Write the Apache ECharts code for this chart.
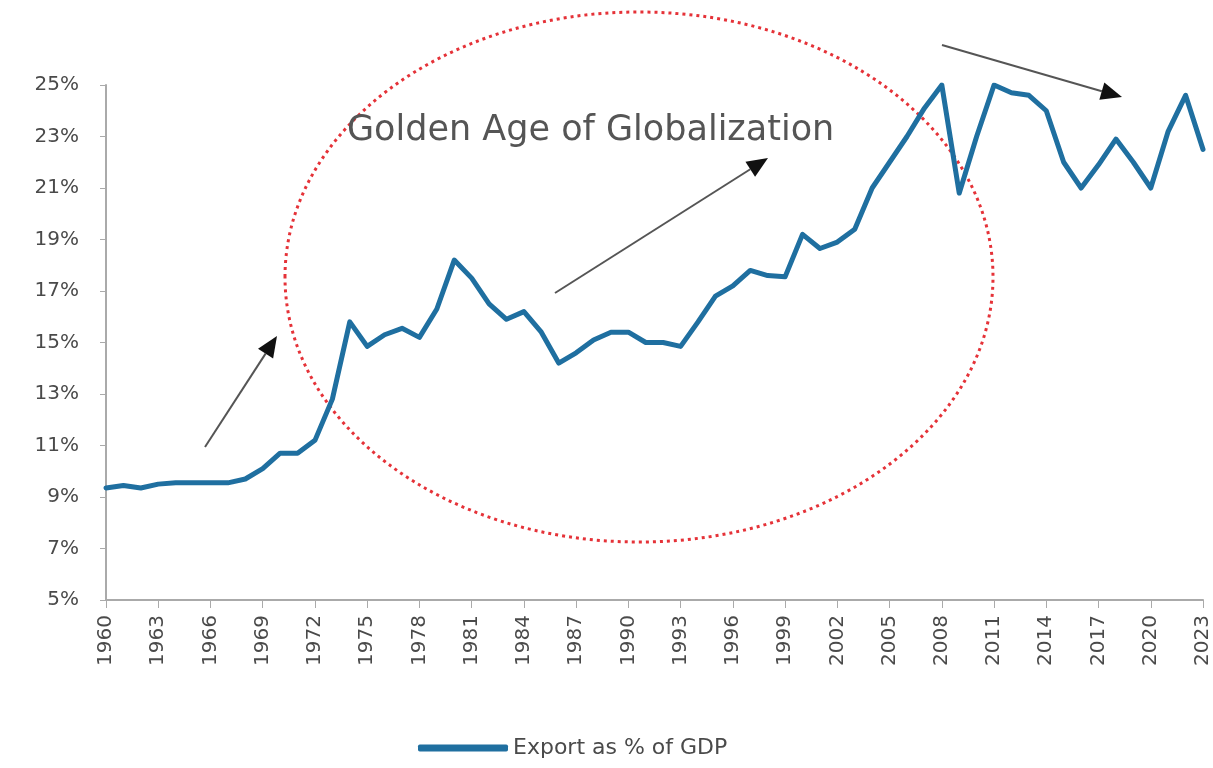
<!DOCTYPE html>
<html>
<head>
<meta charset="utf-8">
<script src="https://cdn.jsdelivr.net/npm/echarts@6/dist/echarts.min.js"></script>
<style>
  html, body { margin: 0; padding: 0; background: #fff; }
  #chart { width: 1213px; height: 768px; }
</style>
</head>
<body>
<div id="chart"></div>
<script>
// Years 1960–2023
const years = [];
for (let y = 1960; y <= 2023; y++) years.push(String(y));

// Exports as a share of GDP (%)
const exportShare = [
  9.35, 9.45, 9.35, 9.5, 9.55, 9.55, 9.55, 9.55, 9.7, 10.1,
  10.7, 10.7, 11.2, 12.8, 15.8, 14.85, 15.3, 15.55, 15.2, 16.3,
  18.2, 17.5, 16.5, 15.9, 16.2, 15.4, 14.2, 14.6, 15.1, 15.4,
  15.4, 15.0, 15.0, 14.85, 15.8, 16.8, 17.2, 17.8, 17.6, 17.55,
  19.2, 18.65, 18.9, 19.4, 21.0, 22.0, 23.0, 24.1, 25.0, 20.8,
  23.0, 25.0, 24.7, 24.6, 24.0, 22.0, 21.0, 21.9, 22.9, 22.0,
  21.0, 23.2, 24.6, 22.5
];

const seriesName = 'Export as % of GDP';
const calloutText = 'Golden Age of Globalization';

const lineColor = '#1f6fa0';
const textColor = '#4a4a4a';
const font = 'DejaVu Sans';

// Straight arrow with a filled triangular head
function arrow(x1, y1, x2, y2) {
  const ang = Math.atan2(y2 - y1, x2 - x1);
  const len = 21, half = 9;
  const bx = x2 - len * Math.cos(ang), by = y2 - len * Math.sin(ang);
  const px = -Math.sin(ang) * half, py = Math.cos(ang) * half;
  return [
    { type: 'line', shape: { x1, y1, x2: bx, y2: by },
      style: { stroke: '#555', lineWidth: 2 } },
    { type: 'polygon', shape: { points: [[x2, y2], [bx + px, by + py], [bx - px, by - py]] },
      style: { fill: '#111' } }
  ];
}

const chart = echarts.init(document.getElementById('chart'));
chart.setOption({
  animation: false,
  backgroundColor: '#fff',
  grid: { left: 106, right: 10, top: 85, bottom: 168, containLabel: false },
  xAxis: {
    type: 'category',
    data: years,
    boundaryGap: false,
    axisLine: { lineStyle: { color: '#aaa', width: 2 } },
    axisTick: { interval: 2, length: 8, lineStyle: { color: '#aaa' } },
    axisLabel: {
      interval: 2, rotate: 90, margin: 15,
      color: textColor, fontFamily: font, fontSize: 20
    },
    splitLine: { show: false }
  },
  yAxis: {
    type: 'value',
    min: 5, max: 25, interval: 2,
    axisLine: { show: true, lineStyle: { color: '#aaa', width: 2 } },
    axisTick: { show: true, length: 6, lineStyle: { color: '#aaa' } },
    axisLabel: {
      formatter: v => v + '%', margin: 27,
      color: textColor, fontFamily: font, fontSize: 20
    },
    splitLine: { show: false }
  },
  legend: {
    left: 413, top: 732,
    icon: 'roundRect', itemWidth: 90, itemHeight: 7, itemGap: 10,
    textStyle: { color: textColor, fontFamily: font, fontSize: 22 },
    data: [seriesName]
  },
  series: [{
    name: seriesName,
    type: 'line',
    data: exportShare,
    symbol: 'none',
    lineStyle: { color: lineColor, width: 5, join: 'round', cap: 'round' },
    itemStyle: { color: lineColor },
    z: 3
  }],
  graphic: [
    { type: 'ellipse', shape: { cx: 639, cy: 277, rx: 354, ry: 265 },
      style: { fill: 'none', stroke: '#e53238', lineWidth: 3, lineDash: [3, 4] }, z: 1 },
    { type: 'text', left: 347, top: 113, z: 1,
      style: { text: calloutText, fill: '#555', font: '35px "DejaVu Sans"' } },
    ...arrow(205, 447, 277, 336),
    ...arrow(555, 293, 768, 158),
    ...arrow(942, 45, 1122, 97)
  ]
});
</script>
</body>
</html>
